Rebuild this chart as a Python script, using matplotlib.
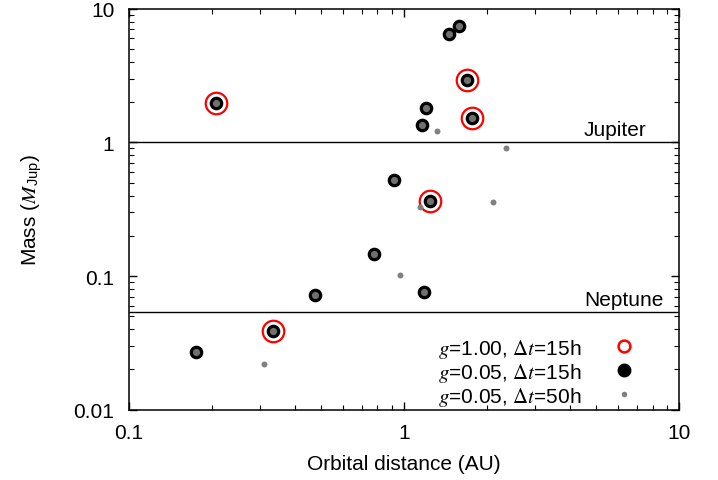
import matplotlib

matplotlib.use("Agg")
import matplotlib.pyplot as plt
from matplotlib.lines import Line2D
from matplotlib.ticker import FixedLocator, FixedFormatter, LogLocator, NullFormatter

plt.rcParams["font.family"] = ["Liberation Sans", "DejaVu Sans"]
plt.rcParams["mathtext.fontset"] = "custom"
plt.rcParams["mathtext.rm"] = "STIXGeneral"
plt.rcParams["mathtext.it"] = "STIXGeneral:italic"
plt.rcParams["mathtext.sf"] = "Liberation Sans"

# g=1.00, dt=15h (open red circles)
a_g100 = [0.207, 1.69, 1.76, 1.24, 0.333]
m_g100 = [1.96, 2.91, 1.51, 0.365, 0.0388]

# g=0.05, dt=15h (black)
a_g005 = [0.207, 1.69, 1.76, 1.24, 0.333, 1.58, 1.46, 1.20, 1.16,
          0.92, 0.78, 1.18, 0.475, 0.175]
m_g005 = [1.96, 2.91, 1.51, 0.365, 0.0388, 7.46, 6.50, 1.81, 1.36,
          0.523, 0.145, 0.076, 0.072, 0.0272]

# g=0.05, dt=50h (small grey)
a_g005_50 = [1.32, 2.35, 2.11, 1.14, 0.97, 0.31]
m_g005_50 = [1.21, 0.90, 0.36, 0.33, 0.101, 0.022]

# reference masses (M_Jup)
ref_names = ["Jupiter", "Neptune"]
ref_masses = [1.0, 0.054]

FS = 15

fig = plt.figure(figsize=(7.18, 4.81), dpi=100)
ax = fig.add_axes([0.1797, 0.1462, 0.7663, 0.8336])

for name, mass in zip(ref_names, ref_masses):
    ax.axhline(mass, color="black", lw=1.0, zorder=1)
    ax.annotate(name, xy=(0.827, mass), xycoords=("axes fraction", "data"),
                xytext=(0, 5), textcoords="offset points",
                ha="left", va="baseline", fontsize=FS)

ax.plot(a_g100, m_g100, ls="none", marker="o", ms=15.5, mfc="none",
        mec="red", mew=1.6, zorder=3)
ax.plot(a_g005, m_g005, ls="none", marker="o", ms=7.5, mfc="#707070",
        mec="black", mew=2.3, zorder=4)
ax.plot(a_g005_50, m_g005_50, ls="none", marker="o", ms=4.3, mfc="#808080",
        mec="none", zorder=5)

ax.set_xscale("log")
ax.set_yscale("log")
ax.set_xlim(0.1, 10)
ax.set_ylim(0.01, 10)

ax.xaxis.set_major_locator(FixedLocator([0.1, 1, 10]))
ax.xaxis.set_major_formatter(FixedFormatter(["0.1", "1", "10"]))
ax.yaxis.set_major_locator(FixedLocator([0.01, 0.1, 1, 10]))
ax.yaxis.set_major_formatter(FixedFormatter(["0.01", "0.1", "1", "10"]))
for axis in (ax.xaxis, ax.yaxis):
    axis.set_minor_locator(LogLocator(base=10, subs=range(2, 10)))
    axis.set_minor_formatter(NullFormatter())

ax.tick_params(which="both", direction="in", top=True, right=True,
               labelsize=FS)
ax.tick_params(axis="x", which="major", pad=9.5)
ax.tick_params(axis="y", which="major", pad=10.5)
ax.tick_params(which="major", length=6, width=1)
ax.tick_params(which="minor", length=3.5, width=0.8)
for s in ax.spines.values():
    s.set_linewidth(1.1)

ax.set_xlabel("Orbital distance (AU)", fontsize=FS, labelpad=9)
ax.set_ylabel(r"Mass ($M_{\mathsf{Jup}}$)", fontsize=FS, labelpad=21)

handles = [
    Line2D([], [], ls="none", marker="o", ms=8.5, mfc="none", mec="red", mew=1.8),
    Line2D([], [], ls="none", marker="o", ms=9, mfc="black", mec="black"),
    Line2D([], [], ls="none", marker="o", ms=4, mfc="#808080", mec="none"),
]
labels = [
    r"$g$=1.00, $\Delta t$=15h",
    r"$g$=0.05, $\Delta t$=15h",
    r"$g$=0.05, $\Delta t$=50h",
]
ax.legend(handles, labels, loc="lower right", bbox_to_anchor=(0.938, 0.005),
          frameon=False, markerfirst=False, fontsize=FS, handletextpad=1.05,
          labelspacing=0.05, borderpad=0.0, borderaxespad=0.0)

fig.savefig("out.png", dpi=100)
